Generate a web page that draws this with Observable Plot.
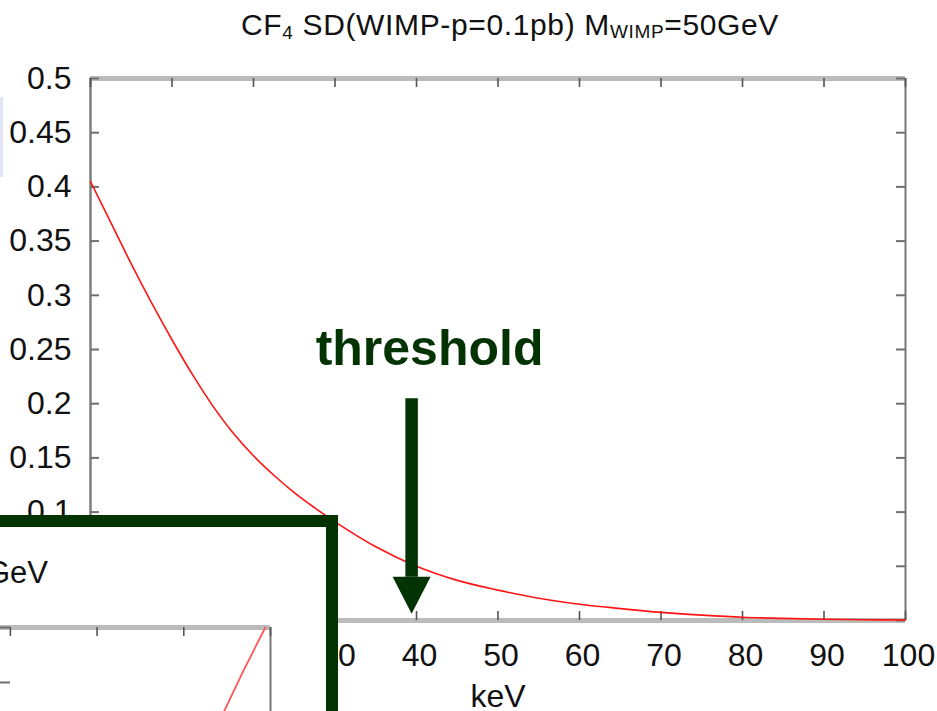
<!DOCTYPE html>
<html>
<head>
<meta charset="utf-8">
<script src="https://cdn.jsdelivr.net/npm/d3@7"></script>
<script src="https://cdn.jsdelivr.net/npm/@observablehq/plot@0.6"></script>
<style>
  html, body { margin: 0; padding: 0; background: #fff; }
  #wrap { position: relative; width: 937px; height: 711px; overflow: hidden;
          font-family: "Liberation Sans", Arial, Helvetica, sans-serif; background: #fff; }
  #title { position: absolute; left: 241px; top: 9.6px; font-size: 30px; line-height: 30px;
           color: #111; white-space: nowrap; }
  #title sub { font-size: 19px; line-height: 0; }
  #title sub.s4 { vertical-align: -4px; }
  #title sub.sw { vertical-align: -3px; }
  #strip { position: absolute; left: 0; top: 97px; width: 3px; height: 80px; background: #e2e5f7; }
  #main { position: absolute; left: 0; top: 0; }
  #box { position: absolute; left: -20px; top: 515px; width: 358px; height: 230px; box-sizing: border-box;
         border: 12.5px solid #033303; background: #fff; }
  #inset { position: absolute; left: 0; top: 528px; }
  #insetTitle { position: absolute; right: 889px; top: 557px; font-size: 31px; line-height: 31px;
                color: #111; white-space: nowrap; text-align: right; }
</style>
</head>
<body>
<div id="wrap">
  <div id="strip"></div>
  <div id="main"></div>
  <div id="title">CF<sub class="s4">4</sub> SD(WIMP-p=0.1pb) M<sub class="sw">WIMP</sub>=50GeV</div>
  <div id="box"></div>
  <div id="insetTitle">GeV</div>
  <div id="inset"></div>
</div>
<script>
// ---- main chart data ----
const energyKeV = [0, 2.5, 5, 7.5, 10, 12.5, 15, 17.5, 20, 22.5, 25, 27.5, 30, 35, 40, 45, 50, 55, 60, 65, 70, 75, 80, 85, 90, 95, 100];
const rate      = [0.405, 0.367, 0.329, 0.293, 0.259, 0.227, 0.198, 0.173, 0.152, 0.134, 0.118, 0.104, 0.091, 0.068, 0.050, 0.037, 0.028, 0.0205, 0.015, 0.011, 0.0075, 0.005, 0.003, 0.002, 0.0012, 0.0007, 0.0004];
const xTicks = [0, 10, 20, 30, 40, 50, 60, 70, 80, 90, 100];
const yTicks = [0, 0.05, 0.1, 0.15, 0.2, 0.25, 0.3, 0.35, 0.4, 0.45, 0.5];
// tick labels that are not covered by the overlaid box
const xTickLabels = [30, 40, 50, 60, 70, 80, 90, 100];
const yTickLabels = [0.1, 0.15, 0.2, 0.25, 0.3, 0.35, 0.4, 0.45, 0.5];
const xDomain = [0, 100];
const yDomain = [0, 0.5];
const xLabel = ["keV"];

// ---- threshold annotation ----
const thresholdText = ["threshold"];
const thresholdTextKeV = [41.6];
const thresholdTextRate = [0.236];
const thresholdKeV = [39.4];
const arrowTopRate = [0.2045];
const arrowBaseRate = [0.040];
const arrowTipRate = [0.0062];

// ---- partly hidden inset chart ----
const insetKeV = [94.6, 96.9, 99.4];
const insetRate = [0.423, 0.461, 0.5];
const insetXTicks = [70, 80, 90, 100];
const insetYTicks = [0.45, 0.5];
const insetXDomain = [68.86, 100];
const insetYDomain = [0.4236, 0.5];

const green = "#033303";
const W = 937, H = 711, mL = 90, mR = 32, mT = 78, mB = 91;
const innerW = W - mL - mR, innerH = H - mT - mB;

const data = energyKeV.map((e, i) => ({e, r: rate[i]}));

const downTriangle = {
  draw(ctx) { ctx.moveTo(-19, -37); ctx.lineTo(19, -37); ctx.lineTo(0, 0); ctx.closePath(); }
};

const main = Plot.plot({
  width: W, height: H,
  marginLeft: mL, marginRight: mR, marginTop: mT, marginBottom: mB,
  style: { background: "transparent", fontFamily: "'Liberation Sans', Arial, Helvetica, sans-serif", color: "#111" },
  x: { domain: xDomain },
  y: { domain: yDomain },
  marks: [
    Plot.ruleY([yDomain[1]], { stroke: "#bbbbbb", strokeWidth: 5 }),
    Plot.ruleY([yDomain[0]], { stroke: "#bbbbbb", strokeWidth: 5 }),
    Plot.ruleX([xDomain[0]], { stroke: "#7f7f7f", strokeWidth: 2.5 }),
    Plot.ruleX([xDomain[1]], { stroke: "#767676", strokeWidth: 2 }),
    Plot.tickY(yTicks, { y: Plot.identity, insetRight: innerW - 9, stroke: "#707070", strokeWidth: 2 }),
    Plot.tickY(yTicks, { y: Plot.identity, insetLeft: innerW - 9, stroke: "#707070", strokeWidth: 2 }),
    Plot.tickX(xTicks, { x: Plot.identity, insetBottom: innerH - 9, stroke: "#555", strokeWidth: 1.6 }),
    Plot.tickX(xTicks, { x: Plot.identity, insetTop: innerH - 9, stroke: "#555", strokeWidth: 1.6 }),
    Plot.axisY({ ticks: yTickLabels, tickSize: 0, tickPadding: 19, fontSize: 32, label: null, tickFormat: d => String(d) }),
    Plot.axisX({ ticks: xTickLabels, tickSize: 0, tickPadding: 23, fontSize: 32, label: null, dx: 3, tickFormat: d => String(d) }),
    Plot.text(xLabel, { frameAnchor: "bottom", lineAnchor: "top", dy: 64, fontSize: 32, fill: "#111" }),
    Plot.line(data, { x: "e", y: "r", stroke: "#ff1414", strokeWidth: 1.6, curve: "catmull-rom" }),
    Plot.ruleX(thresholdKeV, { x: Plot.identity, y1: () => arrowTopRate[0], y2: () => arrowBaseRate[0], stroke: green, strokeWidth: 12.5 }),
    Plot.dot(thresholdKeV, { x: Plot.identity, y: () => arrowTipRate[0], symbol: downTriangle, r: 5, fill: green, stroke: "none" }),
    Plot.text(thresholdText, { x: () => thresholdTextKeV[0], y: () => thresholdTextRate[0], text: Plot.identity,
      fontSize: 50, fontWeight: "bold", fill: green, lineAnchor: "bottom", fontFamily: "'Liberation Sans', Arial, sans-serif" })
  ]
});
document.getElementById("main").appendChild(main);

const insetData = insetKeV.map((e, i) => ({e, r: insetRate[i]}));
const inset = Plot.plot({
  width: 325, height: 183,
  marginLeft: 0, marginRight: 55, marginTop: 99, marginBottom: 0,
  style: { background: "transparent" },
  x: { domain: insetXDomain, axis: null },
  y: { domain: insetYDomain, axis: null },
  marks: [
    Plot.ruleY([insetYDomain[1]], { stroke: "#bbbbbb", strokeWidth: 5 }),
    Plot.ruleX([insetXDomain[1]], { stroke: "#767676", strokeWidth: 2 }),
    Plot.tickX(insetXTicks, { x: Plot.identity, insetBottom: 84 - 9, stroke: "#555", strokeWidth: 1.6 }),
    Plot.tickY(insetYTicks, { y: Plot.identity, insetRight: 270 - 10, stroke: "#707070", strokeWidth: 2 }),
    Plot.line(insetData, { x: "e", y: "r", stroke: "#ff5555", strokeWidth: 1.8 })
  ]
});
document.getElementById("inset").appendChild(inset);

// fit the title to its measured span in the picture
const t = document.getElementById("title");
const w = t.getBoundingClientRect().width;
const n = t.textContent.length;
t.style.letterSpacing = ((538 - w) / n) + "px";
</script>
</body>
</html>
